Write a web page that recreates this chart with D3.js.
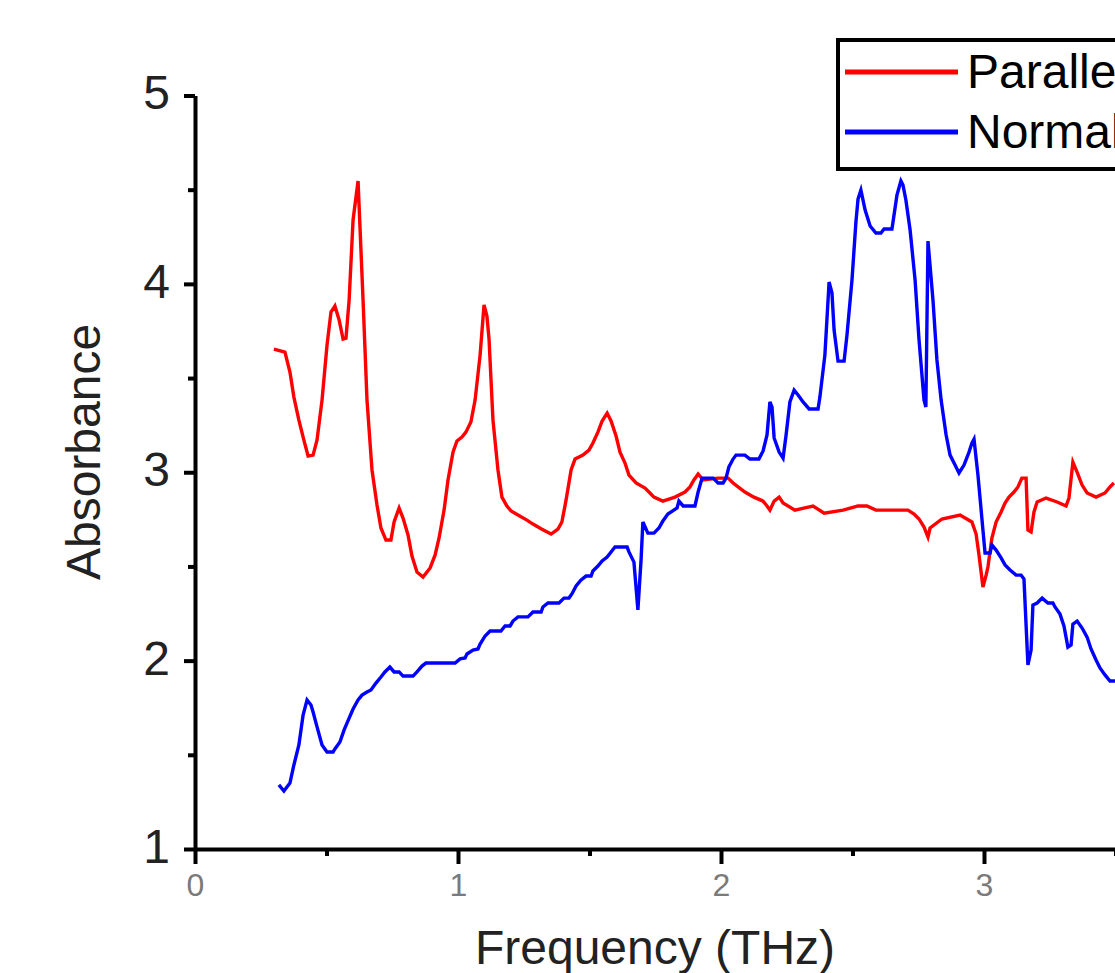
<!DOCTYPE html>
<html><head><meta charset="utf-8">
<script src="https://cdn.jsdelivr.net/npm/d3@7"></script>
<style>html,body{margin:0;padding:0;background:#fff;overflow:hidden}</style>
</head><body><svg id="chart" width="1115" height="973"></svg>
<script>
// ---- data (frequency in THz, absorbance) ----
const parallelFreq = [0.300,0.342,0.361,0.376,0.395,0.414,0.430,0.449,0.464,0.483,0.502,0.517,0.532,0.548,0.563,0.574,0.586,0.601,0.620,0.631,0.639,0.654,0.673,0.692,0.707,0.726,0.745,0.757,0.776,0.791,0.810,0.825,0.844,0.867,0.894,0.913,0.928,0.947,0.962,0.981,0.996,1.015,1.030,1.049,1.065,1.084,1.099,1.110,1.118,1.133,1.152,1.167,1.186,1.202,1.228,1.262,1.285,1.319,1.354,1.380,1.395,1.411,1.430,1.445,1.475,1.498,1.513,1.532,1.548,1.567,1.582,1.601,1.616,1.635,1.650,1.677,1.711,1.726,1.745,1.779,1.825,1.863,1.882,1.897,1.913,1.932,1.989,2.027,2.046,2.065,2.091,2.125,2.160,2.175,2.186,2.202,2.221,2.236,2.281,2.350,2.392,2.464,2.521,2.555,2.589,2.711,2.734,2.753,2.772,2.787,2.795,2.840,2.909,2.954,2.970,2.981,2.996,3.008,3.015,3.030,3.046,3.065,3.080,3.095,3.114,3.129,3.144,3.160,3.167,3.179,3.190,3.202,3.236,3.278,3.312,3.323,3.338,3.354,3.373,3.392,3.426,3.460,3.479,3.494];
const parallelAbs = [3.654,3.638,3.532,3.399,3.277,3.171,3.086,3.091,3.171,3.383,3.675,3.850,3.882,3.808,3.707,3.712,3.914,4.339,4.546,4.179,3.914,3.383,3.012,2.826,2.704,2.640,2.640,2.736,2.810,2.757,2.667,2.555,2.470,2.444,2.492,2.561,2.651,2.799,2.959,3.107,3.166,3.187,3.213,3.267,3.383,3.622,3.888,3.829,3.707,3.277,3.012,2.868,2.821,2.794,2.773,2.746,2.725,2.698,2.672,2.698,2.736,2.853,3.012,3.070,3.091,3.118,3.155,3.213,3.272,3.314,3.272,3.192,3.107,3.049,2.985,2.943,2.916,2.895,2.868,2.847,2.868,2.895,2.922,2.959,2.991,2.959,2.969,2.969,2.943,2.922,2.895,2.868,2.847,2.821,2.799,2.847,2.868,2.837,2.799,2.821,2.783,2.799,2.821,2.821,2.799,2.799,2.778,2.752,2.709,2.656,2.704,2.752,2.773,2.736,2.672,2.561,2.391,2.454,2.497,2.651,2.736,2.789,2.837,2.868,2.895,2.922,2.969,2.969,2.693,2.683,2.789,2.842,2.863,2.842,2.821,2.863,3.054,3.001,2.932,2.890,2.868,2.890,2.922,2.943];

const normalFreq = [0.319,0.338,0.361,0.376,0.395,0.411,0.426,0.441,0.449,0.464,0.483,0.502,0.525,0.532,0.551,0.567,0.586,0.601,0.620,0.635,0.654,0.669,0.688,0.707,0.722,0.741,0.757,0.776,0.791,0.829,0.844,0.863,0.878,0.989,1.008,1.027,1.034,1.057,1.076,1.084,1.103,1.122,1.163,1.179,1.198,1.209,1.228,1.266,1.285,1.316,1.323,1.342,1.384,1.403,1.422,1.433,1.449,1.468,1.487,1.506,1.513,1.532,1.548,1.567,1.582,1.597,1.643,1.650,1.669,1.684,1.696,1.703,1.722,1.745,1.764,1.779,1.798,1.833,1.840,1.856,1.901,1.913,1.928,1.970,1.989,2.008,2.019,2.030,2.046,2.057,2.091,2.110,2.144,2.160,2.175,2.186,2.194,2.202,2.221,2.236,2.247,2.262,2.278,2.293,2.312,2.335,2.369,2.376,2.395,2.411,2.422,2.430,2.445,2.468,2.479,2.498,2.513,2.521,2.532,2.548,2.567,2.589,2.608,2.620,2.650,2.654,2.669,2.684,2.692,2.703,2.719,2.738,2.753,2.772,2.779,2.787,2.806,2.821,2.837,2.856,2.871,2.890,2.905,2.924,2.943,2.954,2.962,2.977,2.996,3.004,3.023,3.030,3.046,3.065,3.080,3.099,3.122,3.141,3.152,3.167,3.179,3.186,3.202,3.221,3.243,3.262,3.270,3.289,3.304,3.319,3.331,3.338,3.354,3.373,3.392,3.407,3.426,3.441,3.460,3.479,3.498];
const normalAbs = [1.340,1.308,1.350,1.446,1.552,1.711,1.791,1.764,1.727,1.648,1.552,1.515,1.515,1.531,1.568,1.632,1.695,1.743,1.791,1.817,1.833,1.844,1.881,1.913,1.940,1.966,1.940,1.940,1.918,1.918,1.940,1.971,1.987,1.987,2.009,2.014,2.035,2.056,2.062,2.088,2.131,2.157,2.157,2.184,2.184,2.210,2.232,2.232,2.258,2.258,2.285,2.306,2.306,2.332,2.332,2.354,2.396,2.428,2.449,2.449,2.476,2.502,2.529,2.550,2.577,2.603,2.603,2.577,2.523,2.269,2.534,2.736,2.677,2.677,2.704,2.741,2.778,2.810,2.847,2.821,2.821,2.895,2.969,2.969,2.943,2.943,2.969,3.028,3.070,3.091,3.091,3.070,3.070,3.113,3.198,3.373,3.346,3.182,3.107,3.075,3.192,3.373,3.436,3.410,3.373,3.336,3.336,3.399,3.622,4.010,3.951,3.755,3.590,3.590,3.728,4.020,4.328,4.450,4.498,4.392,4.307,4.270,4.270,4.291,4.291,4.328,4.471,4.546,4.524,4.445,4.286,4.020,3.702,3.383,3.346,4.227,3.914,3.596,3.383,3.198,3.091,3.038,2.996,3.038,3.107,3.155,3.176,2.985,2.693,2.571,2.571,2.614,2.587,2.545,2.508,2.481,2.454,2.454,2.433,1.977,2.056,2.295,2.306,2.332,2.306,2.306,2.285,2.247,2.184,2.072,2.083,2.194,2.210,2.173,2.125,2.062,2.003,1.961,1.924,1.892,1.892];

const seriesNames = ["Parallel", "Normal"];
const seriesColors = ["#ff0000", "#0000ff"];
const xTicks = [0, 1, 2, 3];
const xMinorTicks = [0.5, 1.5, 2.5, 3.5];
const yTicks = [1, 2, 3, 4, 5];
const yMinorTicks = [1.5, 2.5, 3.5, 4.5];
const xTitle = "Frequency (THz)";
const yTitle = "Absorbance";

// ---- drawing ----
const svg = d3.select("#chart");
const x = d3.scaleLinear().domain([0, 3.5]).range([195, 195 + 3.5 * 263]);
const y = d3.scaleLinear().domain([1, 5]).range([849, 95.5]);

const series = [
  {name: seriesNames[0], color: seriesColors[0], pts: parallelFreq.map((f, i) => [f, parallelAbs[i]])},
  {name: seriesNames[1], color: seriesColors[1], pts: normalFreq.map((f, i) => [f, normalAbs[i]])}
];

svg.append("defs").append("clipPath").attr("id", "clip")
  .append("rect").attr("x", 195).attr("y", 0).attr("width", 1000).attr("height", 849);

const line = d3.line().x(d => x(d[0])).y(d => y(d[1]));
svg.append("g").attr("clip-path", "url(#clip)")
  .selectAll("path").data(series).join("path")
  .attr("d", d => line(d.pts))
  .attr("fill", "none")
  .attr("stroke", d => d.color)
  .attr("stroke-width", 3.4)
  .attr("stroke-linejoin", "miter");

function styleAxis(g) {
  g.selectAll(".domain").attr("stroke", "#000").attr("stroke-width", 4);
  g.selectAll(".tick line").attr("stroke", "#000").attr("stroke-width", 4);
}

// x axis
const gx = svg.append("g").attr("transform", "translate(0,849)")
  .call(d3.axisBottom(x).tickValues(xTicks).tickSize(15).tickSizeOuter(0).tickFormat(d3.format("d")));
styleAxis(gx);
gx.selectAll(".tick text").attr("font-family", "Liberation Sans, Arial, sans-serif")
  .attr("font-size", 32).attr("fill", "#7a7a7a").attr("y", 24).attr("dy", "0.71em");
const gxm = svg.append("g").attr("transform", "translate(0,849)")
  .call(d3.axisBottom(x).tickValues(xMinorTicks).tickSize(7).tickSizeOuter(0).tickFormat(""));
styleAxis(gxm);
gxm.select(".domain").remove();

// y axis
const gy = svg.append("g").attr("transform", "translate(195,0)")
  .call(d3.axisLeft(y).tickValues(yTicks).tickSize(11).tickSizeOuter(0).tickFormat(d3.format("d")));
styleAxis(gy);
gy.selectAll(".tick text").attr("font-family", "Liberation Sans, Arial, sans-serif")
  .attr("font-size", 48).attr("fill", "#222").attr("x", -25).attr("dy", "0.28em");
const gym = svg.append("g").attr("transform", "translate(195,0)")
  .call(d3.axisLeft(y).tickValues(yMinorTicks).tickSize(7).tickSizeOuter(0).tickFormat(""));
styleAxis(gym);
gym.select(".domain").remove();

// titles
svg.append("text").attr("x", 655).attr("y", 964).attr("text-anchor", "middle")
  .attr("font-family", "Liberation Sans, Arial, sans-serif").attr("font-size", 48)
  .attr("fill", "#222").text(xTitle);
svg.append("text").attr("transform", "translate(100,452) rotate(-90)").attr("text-anchor", "middle")
  .attr("font-family", "Liberation Sans, Arial, sans-serif").attr("font-size", 48)
  .attr("fill", "#222").text(yTitle);

// legend (the reference crops it at the right edge)
const lg = svg.append("g");
lg.append("rect").attr("x", 838).attr("y", 40).attr("width", 400).attr("height", 129)
  .attr("fill", "#fff").attr("stroke", "#000").attr("stroke-width", 4);
const items = lg.selectAll("g.item").data(series).join("g").attr("class", "item")
  .attr("transform", (d, i) => `translate(0,${72 + i * 60})`);
items.append("line").attr("x1", 845).attr("x2", 958).attr("y1", 0).attr("y2", 0)
  .attr("stroke", d => d.color).attr("stroke-width", 5);
items.append("text").attr("x", 967).attr("y", 16)
  .attr("font-family", "Liberation Sans, Arial, sans-serif").attr("font-size", 48)
  .attr("fill", "#000").text(d => d.name);
</script></body></html>
